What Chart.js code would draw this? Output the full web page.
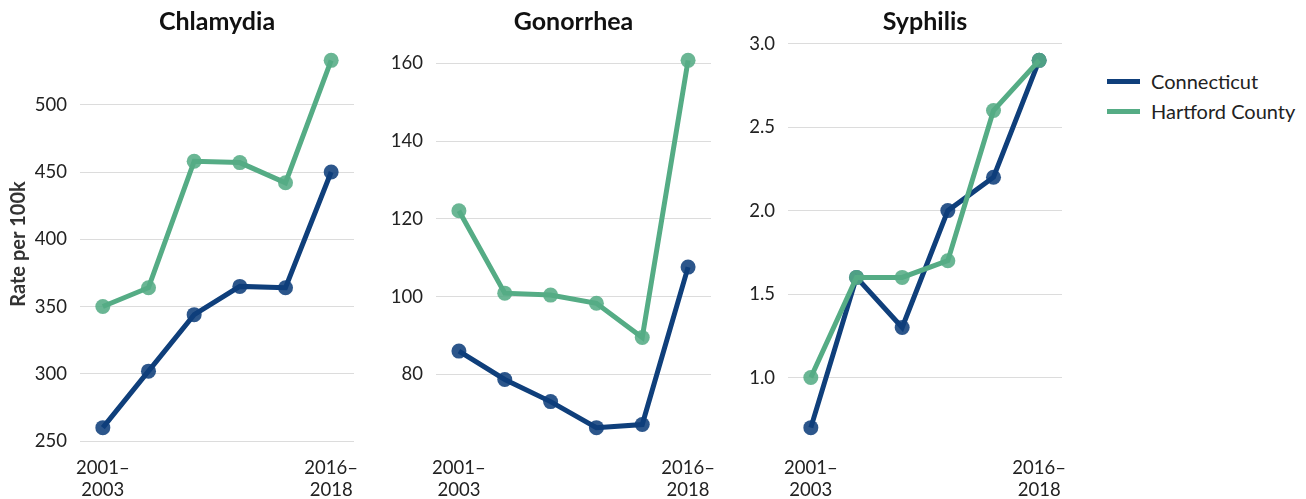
<!DOCTYPE html>
<html>
<head>
<meta charset="utf-8">
<script src="https://cdn.jsdelivr.net/npm/chart.js@4"></script>
<style>
  body { margin: 0; background: #fff; font-family: Lato, sans-serif; }
  .panel { position: absolute; top: 0; }
  #legend { position: absolute; left: 1107px; top: 66px; }
  .item { display: flex; align-items: center; height: 30px; font-size: 20px; color: #222; }
  .swatch { width: 33px; height: 5px; margin-right: 11px; }
</style>
</head>
<body>
<canvas id="chlamydia" class="panel" style="left:0px" width="370" height="499"></canvas>
<canvas id="gonorrhea" class="panel" style="left:370px" width="360" height="499"></canvas>
<canvas id="syphilis" class="panel" style="left:730px" width="360" height="499"></canvas>
<div id="legend"></div>
<script>
var periods = [['2001–', '2003'], ['2004–', '2006'], ['2007–', '2009'], ['2010–', '2012'], ['2013–', '2015'], ['2016–', '2018']];
var seriesNames = ['Connecticut', 'Hartford County'];
var seriesColors = ['#0f3f7b', '#55ac85'];
var pointColors = ['rgba(15,63,123,0.88)', 'rgba(85,172,133,0.88)'];

var ctChlamydia = [260, 302, 344, 365, 364, 450];
var hcChlamydia = [350, 364, 458, 457, 442, 533];
var ctGonorrhea = [86, 78.7, 73, 66.3, 67.1, 107.6];
var hcGonorrhea = [122.1, 100.9, 100.4, 98.3, 89.5, 160.8];
var ctSyphilis = [0.7, 1.6, 1.3, 2.0, 2.2, 2.9];
var hcSyphilis = [1.0, 1.6, 1.6, 1.7, 2.6, 2.9];

var fontFam = 'Lato, sans-serif';

function makePanel(id, title, ct, hc, step, decimals, axisWidth, rightPad, showTitle) {
    var all = ct.concat(hc);
    var lo = Math.min.apply(null, all), hi = Math.max.apply(null, all);
    var pad = (hi - lo) * 0.05;
    var ctx = document.getElementById(id).getContext('2d');
    return new Chart(ctx, {
        type: 'line',
        data: {
            labels: periods,
            datasets: [ct, hc].map(function (vals, i) {
                return {
                    label: seriesNames[i],
                    data: vals,
                    borderColor: seriesColors[i],
                    backgroundColor: pointColors[i],
                    pointBackgroundColor: pointColors[i],
                    pointBorderWidth: 0,
                    pointRadius: 7.5,
                    borderWidth: 5,
                    tension: 0,
                    order: 1 - i
                };
            })
        },
        options: {
            responsive: false,
            animation: false,
            layout: { padding: { left: 0, right: rightPad, top: 0, bottom: 0 } },
            plugins: {
                legend: { display: false },
                tooltip: { enabled: false },
                title: {
                    display: true,
                    fullSize: false,
                    text: title,
                    color: '#111',
                    font: { family: fontFam, size: 25, weight: 'bold', lineHeight: 1.2 },
                    padding: { top: 7, bottom: 5 }
                }
            },
            scales: {
                x: {
                    offset: true,
                    grid: { display: false },
                    border: { display: false },
                    afterFit: function (s) { s.height = 53; },
                    ticks: {
                        autoSkip: false,
                        maxRotation: 0,
                        minRotation: 0,
                        padding: 3,
                        color: '#222',
                        font: { family: fontFam, size: 18.5, lineHeight: 1.2 },
                        callback: function (v, i) {
                            return (i === 0 || i === periods.length - 1) ? this.getLabelForValue(v) : '';
                        }
                    }
                },
                y: {
                    min: lo - pad,
                    max: hi + pad,
                    grid: { color: '#dcdcdc', lineWidth: 1, drawTicks: false },
                    border: { display: false },
                    afterFit: function (s) { s.width = axisWidth; },
                    afterBuildTicks: function (s) {
                        var t = [];
                        for (var v = Math.ceil(s.min / step) * step; v <= s.max + 1e-9; v += step) {
                            t.push({ value: Math.round(v * 1000) / 1000 });
                        }
                        s.ticks = t;
                    },
                    title: {
                        display: showTitle,
                        text: 'Rate per 100k',
                        color: '#333',
                        font: { family: fontFam, size: 20, weight: 'bold' },
                        padding: { top: 7, bottom: 0 }
                    },
                    ticks: {
                        padding: 13,
                        color: '#222',
                        font: { family: fontFam, size: 18.5 },
                        callback: function (v) { return Number(v).toFixed(decimals); }
                    }
                }
            }
        }
    });
}

makePanel('chlamydia', 'Chlamydia', ctChlamydia, hcChlamydia, 50, 0, 80, 16, true);
makePanel('gonorrhea', 'Gonorrhea', ctGonorrhea, hcGonorrhea, 20, 0, 66, 19, false);
makePanel('syphilis', 'Syphilis', ctSyphilis, hcSyphilis, 0.5, 1, 58, 28, false);

// legend built from the series arrays
var legend = document.getElementById('legend');
seriesNames.forEach(function (name, i) {
    var row = document.createElement('div');
    row.className = 'item';
    var sw = document.createElement('span');
    sw.className = 'swatch';
    sw.style.background = seriesColors[i];
    var txt = document.createElement('span');
    txt.textContent = name;
    row.appendChild(sw);
    row.appendChild(txt);
    legend.appendChild(row);
});
</script>
</body>
</html>
